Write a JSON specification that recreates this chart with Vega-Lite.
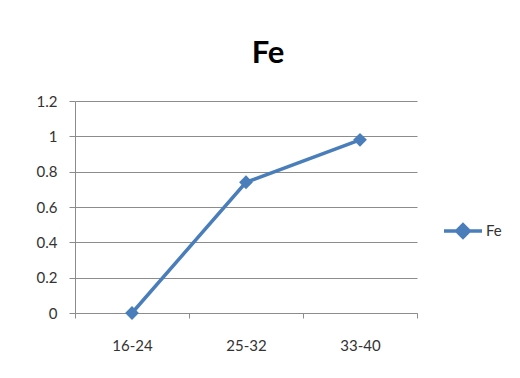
{
  "$schema": "https://vega.github.io/schema/vega-lite/v6.json",
  "autosize": "none",
  "width": 342,
  "height": 212,
  "padding": {"left": 75, "top": 101, "right": 103, "bottom": 65},
  "background": "white",
  "title": {
    "text": "Fe",
    "font": "Lato",
    "fontSize": 31,
    "fontWeight": "bold",
    "color": "#000000",
    "anchor": "middle",
    "dx": 22,
    "offset": 24
  },
  "data": {
    "values": [
      {"age": "16-24", "value": 0, "series": "Fe"},
      {"age": "25-32", "value": 0.74, "series": "Fe"},
      {"age": "33-40", "value": 0.98, "series": "Fe"}
    ]
  },
  "mark": {
    "type": "line",
    "strokeWidth": 3.5,
    "point": {"shape": "diamond", "size": 190, "filled": true, "opacity": 1}
  },
  "encoding": {
    "x": {
      "field": "age",
      "type": "ordinal",
      "sort": null,
      "scale": {"type": "band", "paddingInner": 0, "paddingOuter": 0},
      "axis": {
        "title": null,
        "labelAngle": 0,
        "tickBand": "extent",
        "tickSize": 5,
        "labelPadding": 20,
        "grid": false
      }
    },
    "y": {
      "field": "value",
      "type": "quantitative",
      "scale": {"domain": [0, 1.2], "nice": false, "zero": true},
      "axis": {
        "title": null,
        "values": [0, 0.2, 0.4, 0.6, 0.8, 1, 1.2],
        "format": "~f",
        "tickSize": 6,
        "labelPadding": 12,
        "grid": true
      }
    },
    "color": {
      "field": "series",
      "type": "nominal",
      "scale": {"range": ["#4A7EBB"]},
      "legend": {
        "title": null,
        "orient": "none",
        "legendX": 367,
        "legendY": 109,
        "padding": 0,
        "symbolType": "M-1,0H1M-0.33,0L0,-0.33L0.33,0L0,0.33Z",
        "symbolSize": 1444,
        "symbolStrokeWidth": 3.5,
        "symbolFillColor": "#4A7EBB",
        "symbolStrokeColor": "#4A7EBB",
        "labelFont": "Lato",
        "labelFontSize": 15,
        "labelColor": "#333333",
        "labelOffset": 2
      }
    }
  },
  "config": {
    "view": {"stroke": null},
    "axis": {
      "domainColor": "#8C8C8C",
      "tickColor": "#8C8C8C",
      "gridColor": "#8C8C8C",
      "domainWidth": 1,
      "tickWidth": 1,
      "gridWidth": 1,
      "labelFont": "Lato",
      "labelFontSize": 15,
      "labelColor": "#333333"
    }
  }
}
